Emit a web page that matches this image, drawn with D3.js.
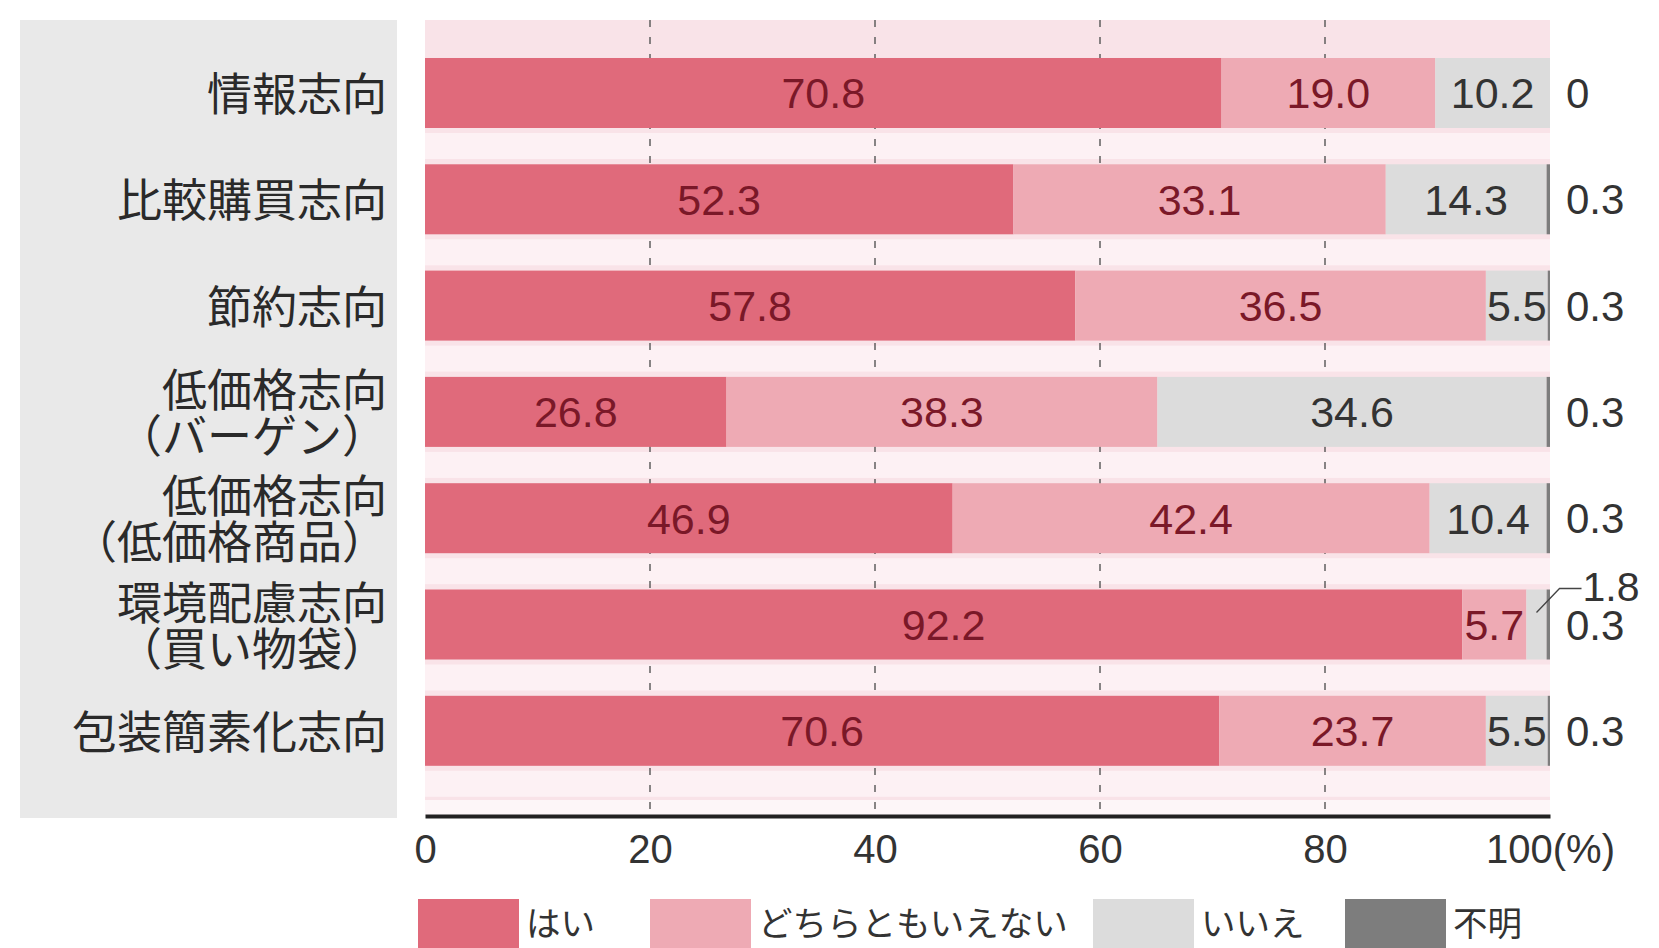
<!DOCTYPE html>
<html>
<head>
<meta charset="utf-8">
<script src="https://cdn.jsdelivr.net/npm/d3@7"></script>
<style>
  html, body { margin: 0; padding: 0; background: #ffffff; }
  svg { display: block; }
</style>
</head>
<body>
<svg id="chart" width="1659" height="948"></svg>
<script>
// ---- data ----
const categories = ["情報志向", "比較購買志向", "節約志向", "低価格志向（バーゲン）", "低価格志向（低価格商品）", "環境配慮志向（買い物袋）", "包装簡素化志向"];
const categoryLines = [
  ["情報志向"],
  ["比較購買志向"],
  ["節約志向"],
  ["低価格志向", "（バーゲン）"],
  ["低価格志向", "（低価格商品）"],
  ["環境配慮志向", "（買い物袋）"],
  ["包装簡素化志向"]
];
const seriesNames = ["はい", "どちらともいえない", "いいえ", "不明"];
const hai     = [70.8, 52.3, 57.8, 26.8, 46.9, 92.2, 70.6];
const dochira = [19.0, 33.1, 36.5, 38.3, 42.4, 5.7, 23.7];
const iie     = [10.2, 14.3, 5.5, 34.6, 10.4, 1.8, 5.5];
const fumei   = [0, 0.3, 0.3, 0.3, 0.3, 0.3, 0.3];
const tickValues = [0, 20, 40, 60, 80, 100];
const tickLabels = ["0", "20", "40", "60", "80", "100(%)"];

// ---- styles ----
const colors = ["#e06a7b", "#eeaab4", "#dcdcdc", "#7d7d7d"];
const valueColors = ["#7a1828", "#7a1828", "#333333"];
const jpFont = "'Noto Sans CJK JP', 'Noto Sans', sans-serif";
const numFont = "'Liberation Sans', Arial, sans-serif";

const svg = d3.select("#chart");

const plotLeft = 425, plotRight = 1550, plotTop = 20, plotBgBottom = 800, axisY = 816;

const x = d3.scaleLinear().domain([0, 100]).range([plotLeft, plotRight]).clamp(true);
const y = d3.scaleBand().domain(categories).range([39.85, 783.95]).paddingInner(0.3415).paddingOuter(0.1707);

// rows
const rows = categories.map((c, i) => ({ cat: c, lines: categoryLines[i], vals: [hai[i], dochira[i], iie[i], fumei[i]] }));
const stackGen = d3.stack().keys([0, 1, 2, 3]).value((d, k) => d.vals[k]);
const stacked = stackGen(rows);

// label panel
svg.append("rect").attr("x", 20).attr("y", plotTop).attr("width", 377).attr("height", 798).attr("fill", "#e9e9e9");

// plot background
svg.append("rect").attr("x", plotLeft).attr("y", plotTop).attr("width", plotRight - plotLeft).attr("height", plotBgBottom - plotTop).attr("fill", "#f9e3e8");
// lighter stripes in gaps between bars
const gapStripes = rows.map((r, i) => y(r.cat) + y.bandwidth());
svg.append("g").selectAll("rect").data(gapStripes).join("rect")
  .attr("x", plotLeft).attr("width", plotRight - plotLeft)
  .attr("y", d => d + 5).attr("height", 26)
  .attr("fill", "#fdf1f4");
svg.append("rect").attr("x", plotLeft).attr("y", plotBgBottom).attr("width", plotRight - plotLeft).attr("height", axisY - plotBgBottom).attr("fill", "#fdf6f8");

// gridlines
svg.append("g").selectAll("line").data(tickValues.filter(v => v > 0 && v < 100)).join("line")
  .attr("x1", d => x(d)).attr("x2", d => x(d))
  .attr("y1", plotTop).attr("y2", axisY)
  .attr("stroke", "#555").attr("stroke-width", 1.4).attr("stroke-dasharray", "7,10");

// bars
const layers = svg.append("g").selectAll("g").data(stacked).join("g").attr("fill", (d, k) => colors[k]);
layers.selectAll("rect").data(d => d).join("rect")
  .attr("x", d => x(d[0]))
  .attr("y", d => y(d.data.cat))
  .attr("width", d => Math.max(0, x(d[1]) - x(d[0])))
  .attr("height", y.bandwidth());

// value labels inside segments
const labelG = svg.append("g");
stacked.slice(0, 3).forEach((layer, k) => {
  layer.forEach(d => {
    const v = d.data.vals[k];
    const cy = y(d.data.cat) + y.bandwidth() / 2;
    const cx = (x(d[0]) + x(d[1])) / 2;
    if (v >= 3) {
      labelG.append("text")
        .attr("x", cx).attr("y", cy).attr("dy", "0.36em")
        .attr("text-anchor", "middle")
        .attr("font-family", numFont).attr("font-size", 43)
        .attr("fill", valueColors[k])
        .text(v.toFixed(1));
    } else {
      // small segment: leader line to outside label
      const top = y(d.data.cat);
      labelG.append("polyline")
        .attr("points", [[cx, top + 23], [cx + 23, top - 1], [cx + 45, top - 1]].map(p => p.join(",")).join(" "))
        .attr("fill", "none").attr("stroke", "#444").attr("stroke-width", 1.3);
      labelG.append("text")
        .attr("x", cx + 46).attr("y", top - 3).attr("dy", "0.36em")
        .attr("text-anchor", "start")
        .attr("font-family", numFont).attr("font-size", 41)
        .attr("fill", "#333")
        .text(v.toFixed(1));
    }
  });
});

// 不明 labels on the right
svg.append("g").selectAll("text").data(rows).join("text")
  .attr("x", plotRight + 16)
  .attr("y", d => y(d.cat) + y.bandwidth() / 2).attr("dy", "0.36em")
  .attr("font-family", numFont).attr("font-size", 42).attr("fill", "#333")
  .text(d => d.vals[3] === 0 ? "0" : d.vals[3].toFixed(1));

// category labels
const catG = svg.append("g").selectAll("text").data(rows).join("text")
  .attr("text-anchor", "end")
  .attr("font-family", jpFont).attr("font-size", 45).attr("fill", "#2a2a2a");
catG.each(function(d) {
  const t = d3.select(this);
  const cy = y(d.cat) + y.bandwidth() / 2;
  const n = d.lines.length;
  const lh = 46;
  d.lines.forEach((ln, j) => {
    t.append("tspan")
      .attr("x", 387)
      .attr("y", cy + (j - (n - 1) / 2) * lh + 2)
      .attr("dy", "0.36em")
      .text(ln);
  });
});

// x axis
const axis = d3.axisBottom(x).tickValues(tickValues).tickSize(0).tickPadding(19)
  .tickFormat((d, i) => tickLabels[i]);
const axG = svg.append("g").attr("transform", `translate(0,${axisY})`).call(axis);
axG.select(".domain").attr("stroke", "#222").attr("stroke-width", 4);
axG.selectAll("text").attr("font-family", numFont).attr("font-size", 40).attr("fill", "#333");

// legend
const legendX = [418, 650, 1093, 1345];
const legG = svg.append("g").selectAll("g").data(seriesNames).join("g")
  .attr("transform", (d, i) => `translate(${legendX[i]},899)`);
legG.append("rect").attr("width", 101).attr("height", 60).attr("fill", (d, i) => colors[i]);
legG.append("text").attr("x", 108).attr("y", 25).attr("dy", "0.36em")
  .attr("font-family", jpFont).attr("font-size", 34.5).attr("fill", "#333")
  .text(d => d);
</script>
</body>
</html>
